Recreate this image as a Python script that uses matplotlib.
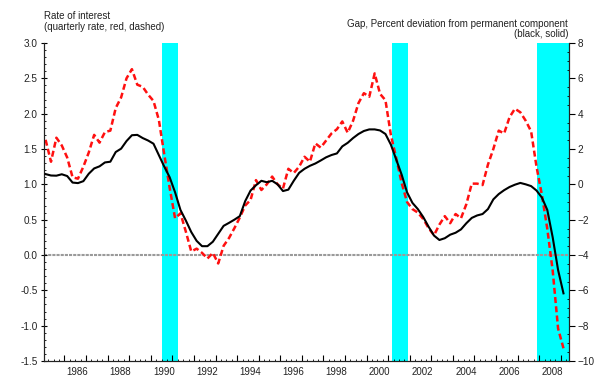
import numpy as np
import matplotlib.pyplot as plt
from matplotlib.ticker import MultipleLocator

plt.rcParams['font.family'] = ['Liberation Sans', 'DejaVu Sans']

# quarterly observations, 1985Q1 .. 2009Q1 (plotted at mid-quarter)
dates = 1985.125 + 0.25 * np.arange(97)

# rate of interest, quarterly rate (left axis, red dashed)
rate = [1.63, 1.32, 1.66, 1.55, 1.38, 1.10, 1.08, 1.25,
        1.45, 1.70, 1.59, 1.74, 1.76, 2.08, 2.23, 2.50,
        2.63, 2.41, 2.38, 2.27, 2.18, 1.91, 1.42, 0.95,
        0.52, 0.59, 0.33, 0.05, 0.09, 0.03, -0.05, 0.03,
        -0.12, 0.13, 0.24, 0.38, 0.53, 0.70, 0.78, 1.06,
        0.92, 1.00, 1.11, 1.00, 0.94, 1.22, 1.16, 1.25,
        1.39, 1.32, 1.58, 1.52, 1.62, 1.72, 1.78, 1.89,
        1.73, 1.90, 2.15, 2.29, 2.24, 2.57, 2.28, 2.19,
        1.70, 1.37, 1.02, 0.75, 0.65, 0.60, 0.51, 0.38,
        0.28, 0.43, 0.55, 0.45, 0.58, 0.52, 0.72, 1.01,
        1.01, 0.99, 1.28, 1.50, 1.76, 1.72, 1.95, 2.07,
        2.02, 1.90, 1.75, 1.25, 0.85, 0.37, -0.22, -1.04,
        -1.32]

# output gap, percent deviation from permanent component (right axis, black)
gap = [0.58, 0.50, 0.49, 0.57, 0.47, 0.10, 0.07, 0.18,
       0.60, 0.90, 1.02, 1.24, 1.28, 1.83, 2.02, 2.45,
       2.78, 2.80, 2.62, 2.48, 2.30, 1.65, 1.00, 0.40,
       -0.45, -1.45, -2.05, -2.70, -3.20, -3.50, -3.50, -3.25,
       -2.80, -2.35, -2.18, -2.00, -1.80, -0.95, -0.35, -0.05,
       0.20, 0.12, 0.20, 0.00, -0.38, -0.30, 0.20, 0.65,
       0.88, 1.05, 1.18, 1.35, 1.53, 1.66, 1.75, 2.15,
       2.35, 2.62, 2.85, 3.02, 3.11, 3.11, 3.05, 2.85,
       2.25, 1.40, 0.55, -0.45, -1.05, -1.40, -1.85, -2.40,
       -2.90, -3.15, -3.05, -2.85, -2.74, -2.55, -2.20, -1.90,
       -1.76, -1.68, -1.40, -0.85, -0.55, -0.33, -0.15, -0.02,
       0.08, 0.00, -0.10, -0.35, -0.75, -1.45, -3.00, -4.85,
       -6.17]

# recession periods
rec_start = [1990.5, 2001.167, 2007.917]
rec_end = [1991.25, 2001.917, 2009.6]

fig = plt.figure(figsize=(6, 3.81), dpi=100)
ax = fig.add_axes([0.0733, 0.0525, 0.875, 0.8346])
ax2 = ax.twinx()

for s, e in zip(rec_start, rec_end):
    ax.axvspan(s, e, color='#00ffff', lw=0, zorder=0)
ax.axhline(0, color='#9a9a9a', lw=1.5, ls=(0, (1.5, 0.5)), zorder=1)

ax.plot(dates, rate, color='#ff1010', lw=1.8, ls=(0, (2.4, 1.3)), zorder=3)
ax2.plot(dates, gap, color='black', lw=1.5, zorder=3)

ax.set_xlim(1985.05, 2009.38)
ax.set_ylim(-1.5, 3.0)
ax2.set_ylim(-10, 8)

# year ticks at year starts, labels centred within each labelled year
ax.xaxis.set_major_locator(MultipleLocator(1))
ax.xaxis.set_minor_locator(MultipleLocator(0.25))
ax.set_xticklabels([])
ax.tick_params(axis='x', which='major', direction='in', length=4, width=0.8)
ax.tick_params(axis='x', which='minor', direction='in', length=1.5, width=0.6)
for yr in range(1986, 2009, 2):
    ax.text(yr + 0.6, -0.02, str(yr), transform=ax.get_xaxis_transform(),
            ha='center', va='top', fontsize=7, color='#222222')

ax.yaxis.set_major_locator(MultipleLocator(0.5))
ax.yaxis.set_minor_locator(MultipleLocator(0.1))
ax.yaxis.set_major_formatter(lambda v, p: '%.1f' % v)
ax.tick_params(axis='y', which='major', direction='inout', length=5, width=0.8,
               labelsize=7.2, labelcolor='#222222', pad=2)
ax.tick_params(axis='y', which='minor', direction='in', length=1.5, width=0.6)

ax2.yaxis.set_major_locator(MultipleLocator(2))
ax2.yaxis.set_minor_locator(MultipleLocator(0.5))
ax2.tick_params(axis='y', which='major', direction='out', length=4, width=0.8,
                labelsize=7.2, labelcolor='#222222', pad=2)
ax2.tick_params(axis='y', which='minor', direction='in', length=1.5, width=0.6)

for a in (ax, ax2):
    a.spines['top'].set_visible(False)
    for sp in ('left', 'right', 'bottom'):
        a.spines[sp].set_linewidth(0.8)
        a.spines[sp].set_color('#222222')

fig.text(0.0733, 0.957, 'Rate of interest', fontsize=7, color='#222222',
         ha='left', va='center')
fig.text(0.0733, 0.930, '(quarterly rate, red, dashed)', fontsize=7,
         color='#222222', ha='left', va='center')
fig.text(0.947, 0.937, 'Gap, Percent deviation from permanent component',
         fontsize=7, color='#222222', ha='right', va='center')
fig.text(0.947, 0.911, '(black, solid)', fontsize=7, color='#222222',
         ha='right', va='center')

fig.savefig('out.png', dpi=100)
